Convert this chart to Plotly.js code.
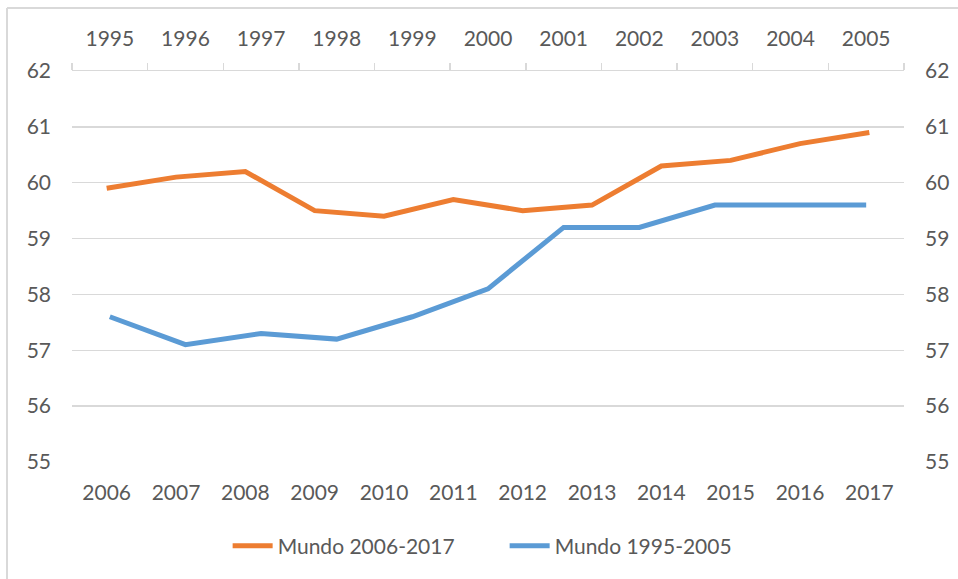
<!DOCTYPE html>
<html>
<head>
<meta charset="utf-8">
<script src="https://cdn.plot.ly/plotly-3.0.1.min.js"></script>
<style>
  html, body { margin: 0; padding: 0; background: #fff; }
  #chart { width: 958px; height: 579px; }
</style>
</head>
<body>
<div id="chart"></div>
<script>
// Data
const yearsBottom = ["2006","2007","2008","2009","2010","2011","2012","2013","2014","2015","2016","2017"];
const yearsTop = ["1995","1996","1997","1998","1999","2000","2001","2002","2003","2004","2005"];
const mundo2006_2017 = [59.9, 60.1, 60.2, 59.5, 59.4, 59.7, 59.5, 59.6, 60.3, 60.4, 60.7, 60.9];
const mundo1995_2005 = [57.6, 57.1, 57.3, 57.2, 57.6, 58.1, 59.2, 59.2, 59.6, 59.6, 59.6];
const yTicks = [55, 56, 57, 58, 59, 60, 61, 62];

const textColor = "#595959";
const gridColor = "#d9d9d9";
const fontFam = "Lato, 'Open Sans', sans-serif";
const fs = 21;

const traces = [
  {
    x: yearsBottom, y: mundo2006_2017, name: "Mundo 2006-2017",
    type: "scatter", mode: "lines", xaxis: "x", yaxis: "y",
    line: { color: "#ED7D31", width: 5 }
  },
  {
    x: yearsTop, y: mundo1995_2005, name: "Mundo 1995-2005",
    type: "scatter", mode: "lines", xaxis: "x2", yaxis: "y",
    line: { color: "#5B9BD5", width: 5 }
  },
  {
    x: yearsBottom, y: mundo2006_2017, type: "scatter", mode: "lines",
    xaxis: "x", yaxis: "y2", showlegend: false, hoverinfo: "skip",
    line: { color: "rgba(0,0,0,0)", width: 0 }
  }
];

const layout = {
  width: 958, height: 579,
  margin: { l: 72, r: 54, t: 71, b: 117 },
  paper_bgcolor: "#fff", plot_bgcolor: "#fff",
  font: { family: fontFam, size: fs, color: textColor },
  showlegend: true,
  legend: {
    orientation: "h", x: 0.52, xanchor: "center", y: -0.215, yanchor: "middle",
    font: { family: fontFam, size: fs, color: textColor },
    itemwidth: 40, traceorder: "normal", entrywidth: 222, entrywidthmode: "pixels"
  },
  xaxis: {
    type: "category", categoryorder: "array", categoryarray: yearsBottom,
    range: [-0.5, yearsBottom.length - 0.5],
    showgrid: false, showline: false, ticks: "", zeroline: false,
    ticklabelstandoff: 16,
    tickfont: { family: fontFam, size: fs, color: textColor }
  },
  xaxis2: {
    type: "category", categoryorder: "array", categoryarray: yearsTop,
    overlaying: "x", side: "top", anchor: "y",
    range: [-0.5, yearsTop.length - 0.5],
    showgrid: false, showline: true, linecolor: gridColor, linewidth: 1.5,
    ticks: "outside", tickson: "boundaries", ticklen: 7, tickcolor: gridColor, tickwidth: 1.5,
    ticklabelstandoff: 15,
    tickfont: { family: fontFam, size: fs, color: textColor }
  },
  yaxis: {
    range: [55, 62], tickvals: yTicks, ticktext: yTicks.map(String),
    showgrid: true, gridcolor: gridColor, gridwidth: 1.5,
    showline: false, zeroline: false, ticks: "",
    ticklabelstandoff: 20,
    tickfont: { family: fontFam, size: fs, color: textColor }
  },
  yaxis2: {
    range: [55, 62], tickvals: yTicks, ticktext: yTicks.map(String),
    overlaying: "y", side: "right", anchor: "x",
    showgrid: false, showline: false, zeroline: false, ticks: "",
    ticklabelstandoff: 20,
    tickfont: { family: fontFam, size: fs, color: textColor }
  },
  shapes: [
    { type: "line", xref: "paper", yref: "paper",
      x0: (7 - 72) / 832, x1: (7 - 72) / 832, y0: (462 - 8) / 391, y1: (462 - 600) / 391,
      line: { color: gridColor, width: 2 } },
    { type: "line", xref: "paper", yref: "paper",
      x0: (7 - 72) / 832, x1: (1000 - 72) / 832, y0: (462 - 8) / 391, y1: (462 - 8) / 391,
      line: { color: gridColor, width: 2 } }
  ]
};

Plotly.newPlot("chart", traces, layout, { displayModeBar: false, staticPlot: true });
</script>
</body>
</html>
